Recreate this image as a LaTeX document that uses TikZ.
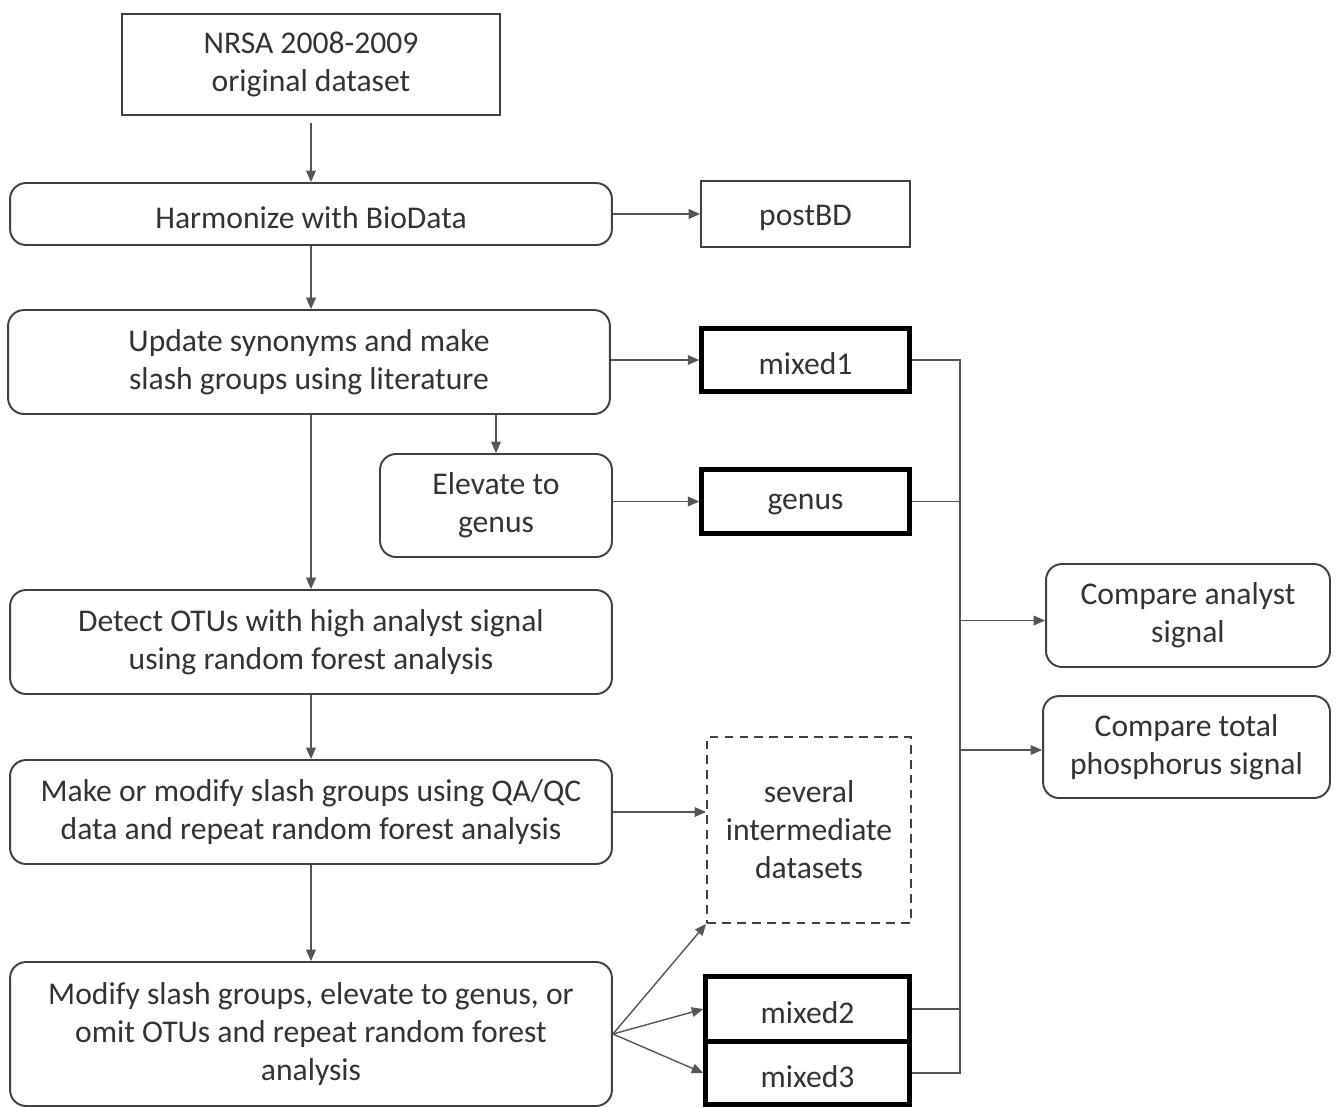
\documentclass[tikz,border=0pt]{standalone}
\usepackage{fontspec}
\setmainfont{Carlito}
\usetikzlibrary{arrows.meta,calc}
\definecolor{txt}{HTML}{333333}
\definecolor{bord}{HTML}{404040}
\definecolor{ln}{HTML}{555555}
\tikzset{
  base/.style={draw=bord, line width=1.1pt, text=txt, align=center, inner sep=0pt,
    font=\fontsize{18}{21.6}\selectfont},
  sqbox/.style={base},
  rbox/.style={base, rounded corners=0.32cm},
  thickbox/.style={base, draw=black, line width=2.6pt},
  dashbox/.style={base, dashed, dash pattern=on 5pt off 3.5pt},
  conn/.style={draw=ln, line width=0.8pt},
  arr/.style={conn, -{Triangle[length=6.5pt,width=5.5pt]}}
}
\newcommand{\lo}[1]{\raisebox{0pt}[\dimexpr\height+0.14cm\relax][\depth]{#1}}
\begin{document}
\begin{tikzpicture}[x=0.02cm,y=-0.02cm]
\useasboundingbox (0,0) rectangle (1340,1107);
% main column
\node[sqbox, minimum width=7.56cm, minimum height=2.02cm] (nrsa) at (311,64.5) {NRSA 2008-2009\\original dataset};
\node[rbox, minimum width=12.04cm, minimum height=1.24cm] (harm) at (311,214) {\lo{Harmonize with BioData}};
\node[rbox, minimum width=12.04cm, minimum height=2.08cm] (upd) at (309,362) {Update synonyms and make\\slash groups using literature};
\node[rbox, minimum width=4.64cm, minimum height=2.06cm] (elev) at (496,505.5) {Elevate to\\genus};
\node[rbox, minimum width=12.04cm, minimum height=2.08cm] (det) at (311,642) {Detect OTUs with high analyst signal\\using random forest analysis};
\node[rbox, minimum width=12.04cm, minimum height=2.08cm] (make) at (311,812) {Make or modify slash groups using QA/QC\\data and repeat random forest analysis};
\node[rbox, minimum width=12.04cm, minimum height=2.88cm] (mod) at (311,1034) {Modify slash groups, elevate to genus, or\\omit OTUs and repeat random forest\\analysis};
% datasets
\node[sqbox, minimum width=4.18cm, minimum height=1.32cm] (post) at (805.5,214) {\lo{postBD}};
\node[thickbox, minimum width=4.16cm, minimum height=1.26cm] (m1) at (805.5,360) {\lo{mixed1}};
\node[thickbox, minimum width=4.16cm, minimum height=1.28cm] (gen) at (805.5,501.5) {\lo{genus}};
\node[dashbox, minimum width=4.08cm, minimum height=3.72cm] (sev) at (809,830) {several\\intermediate\\datasets};
\node[thickbox, minimum width=4.08cm, minimum height=1.30cm] (m2) at (807.5,1009) {\lo{mixed2}};
\node[thickbox, minimum width=4.08cm, minimum height=1.26cm] (m3) at (807.5,1073) {\lo{mixed3}};
% compare
\node[rbox, minimum width=5.68cm, minimum height=2.06cm] (ca) at (1188,615.5) {Compare analyst\\signal};
\node[rbox, minimum width=5.74cm, minimum height=2.04cm] (ct) at (1186.5,747) {Compare total\\phosphorus signal};
% vertical flow
\draw[arr] ([yshift=-0.14cm]nrsa.south) -- (harm.north);
\draw[arr] (harm.south) -- (harm.south |- upd.north);
\draw[arr] (upd.south -| elev.north) -- (elev.north);
\draw[arr] (upd.south -| det.north) -- (det.north);
\draw[arr] (det.south) -- (make.north);
\draw[arr] (make.south) -- (mod.north);
% horizontal flow
\draw[arr] (harm.east) -- (post.west);
\draw[arr] (upd.east |- m1.west) -- (m1.west);
\draw[arr] (elev.east |- gen.west) -- (gen.west);
\draw[arr] (make.east) -- (make.east -| sev.west);
\draw[arr] (mod.east) -- (sev.south west);
\draw[arr] (mod.east) -- (m2.west);
\draw[arr] (mod.east) -- (m3.west);
% bus
\coordinate (bx) at (960,0);
\draw[conn] (m1.east) -- (m1.east -| bx) -- (m3.east -| bx) -- (m3.east);
\draw[conn] (gen.east) -- (gen.east -| bx);
\draw[conn] (m2.east) -- (m2.east -| bx);
\draw[arr] ([yshift=-0.1cm]ca.west -| bx) -- ([yshift=-0.1cm]ca.west);
\draw[arr] ([yshift=-0.06cm]ct.west -| bx) -- ([yshift=-0.06cm]ct.west);
\end{tikzpicture}
\end{document}
